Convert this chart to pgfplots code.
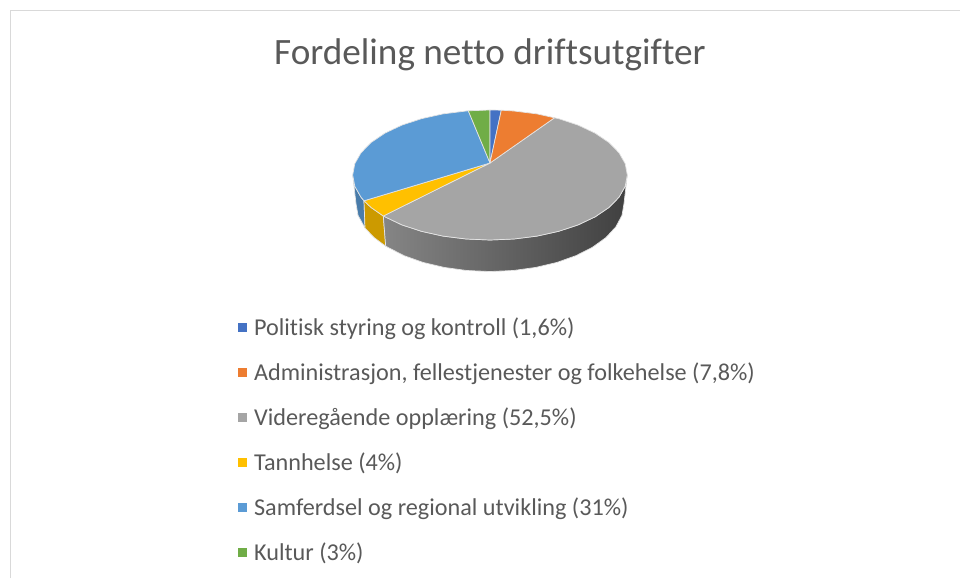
\documentclass[border=0pt]{standalone}
\usepackage{pgfplots}
\pgfplotsset{compat=1.18}
\usepackage{fontspec}
\setmainfont{Carlito}[Ligatures=NoCommon]
\definecolor{cblue}{HTML}{4472C4}
\definecolor{corange}{HTML}{ED7D31}
\definecolor{cgray}{HTML}{A5A5A5}
\definecolor{cyellow}{HTML}{FFC000}
\definecolor{clight}{HTML}{5B9BD5}
\definecolor{cgreen}{HTML}{70AD47}
\definecolor{txt}{HTML}{595959}
\definecolor{frame}{HTML}{D9D9D9}
\definecolor{edge}{HTML}{E4E4E4}
\definecolor{gL}{HTML}{858585}
\definecolor{gM}{HTML}{4A4A4A}
\definecolor{gR}{HTML}{404040}
\pgfplotsset{
  wedge/.style={draw=edge,line width=0.7pt,line join=round,forget plot},
  legend image code/.code={\fill[#1] (0pt,-4pt) rectangle (8pt,4pt);\path (13.5pt,0pt);}
}
\begin{document}
\begin{tikzpicture}
\useasboundingbox (0,0) rectangle (960pt,578pt);
\begin{axis}[
  at={(0,0)},anchor=south west,
  width=960pt,height=578pt,scale only axis,
  xmin=0,xmax=960,ymin=0,ymax=578,y dir=reverse,
  hide axis,clip=false,
  legend style={at={(axis cs:238,315.5)},anchor=north west,draw=none,fill=none,
    font=\fontsize{24.2}{26}\selectfont,text=txt,row sep=21.8pt,inner sep=0pt},
  legend cell align=left,
]
% frame
\addplot[frame,line width=1.5pt,forget plot] coordinates {(10.5,578) (10.5,10.5) (960,10.5)};
% side faces
\addplot[wedge,fill=clight!80!black] coordinates {(352.7,175) (354.8,186.3) (361,197.2) (364,200.8) (365,228) (358,215.3) (356,203.5)} --cycle;
\addplot[wedge,fill=cyellow!80!black] coordinates {(364,200.8) (371.1,207.5) (383.3,216) (385.7,246.2) (374,237.5) (365,228)} --cycle;
\addplot[wedge,left color=gL,middle color=gM,right color=gR] coordinates {(383.3,216) (401.7,224.8) (421.4,231.3) (443,236.1) (466.2,239) (490,240) (513.8,239) (537,236.1) (558.7,231.3) (578.3,224.8) (595.2,216.8) (608.9,207.5) (619,197.2) (625.2,186.3) (627.3,175) (624,203.5) (622,215.3) (615.9,226.8) (606,237.5) (592.6,247.2) (576.1,255.6) (557,262.4) (535.8,267.4) (513.3,270.5) (490,271.5) (466.7,270.5) (444.2,267.4) (423,262.4) (403.9,255.6) (385.7,246.2)} --cycle;
% top faces
\addplot[wedge,fill=cgray] coordinates {(490,163) (554.5,117.8) (558.7,118.7) (578.3,125.2) (595.2,133.2) (608.9,142.5) (619,152.8) (625.2,163.7) (627.3,175) (625.2,186.3) (619,197.2) (608.9,207.5) (595.2,216.8) (578.3,224.8) (558.7,231.3) (537,236.1) (513.8,239) (490,240) (466.2,239) (443,236.1) (421.4,231.3) (401.7,224.8) (383.3,216)} --cycle;
\addplot[wedge,fill=cyellow] coordinates {(490,163) (383.3,216) (371.1,207.5) (364,200.8)} --cycle;
\addplot[wedge,fill=clight] coordinates {(490,163) (364,200.8) (361,197.2) (354.8,186.3) (352.7,175) (354.8,163.7) (361,152.8) (371.1,142.5) (384.8,133.2) (401.7,125.2) (421.4,118.7) (443,113.9) (466.2,111) (468.3,110.8)} --cycle;
\addplot[wedge,fill=cgreen] coordinates {(490,163) (468.3,110.8) (490,110)} --cycle;
\addplot[wedge,fill=cblue] coordinates {(490,163) (490,110) (501.3,110.2)} --cycle;
\addplot[wedge,fill=corange] coordinates {(490,163) (501.3,110.2) (513.8,111) (537,113.9) (554.5,117.8)} --cycle;
% title
\node[text=txt,font=\fontsize{37.2}{40}\selectfont,anchor=center] at (axis cs:490,55) {Fordeling netto driftsutgifter};
% legend
\addlegendimage{cblue}\addlegendentry{Politisk styring og kontroll (1,6\%)}
\addlegendimage{corange}\addlegendentry{Administrasjon, fellestjenester og folkehelse (7,8\%)}
\addlegendimage{cgray}\addlegendentry{Videregående opplæring (52,5\%)}
\addlegendimage{cyellow}\addlegendentry{Tannhelse (4\%)}
\addlegendimage{clight}\addlegendentry{Samferdsel og regional utvikling (31\%)}
\addlegendimage{cgreen}\addlegendentry{Kultur (3\%)}
\end{axis}
\end{tikzpicture}
\end{document}
